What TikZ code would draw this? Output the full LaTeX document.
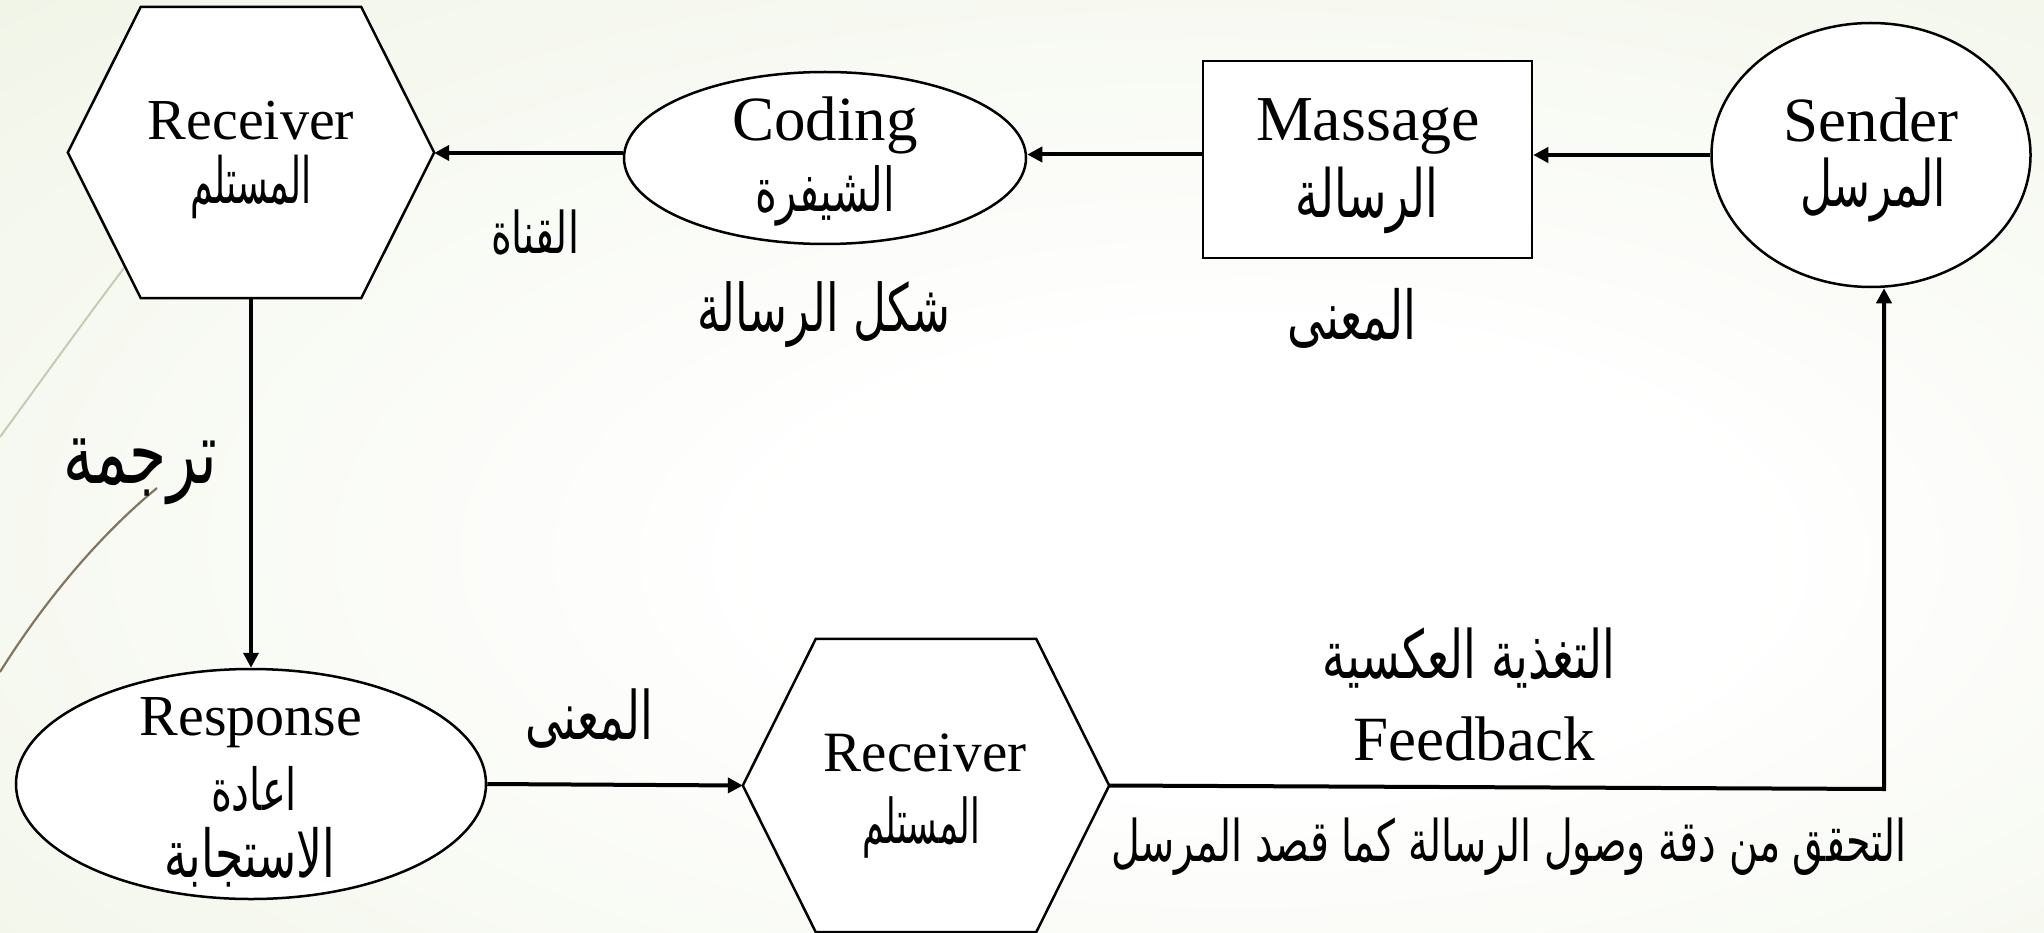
\documentclass[tikz,border=0pt]{standalone}
\usepackage{fontspec}
\setmainfont{Liberation Serif}
\newfontfamily\arabicfont[Script=Arabic]{DejaVu Sans}
\TeXXeTstate=1
\usetikzlibrary{shapes.geometric,arrows.meta,calc}
\definecolor{bgout}{RGB}{221,231,199}
\definecolor{lightarc}{RGB}{200,202,182}
\definecolor{darkarc}{RGB}{128,118,98}
\pgfdeclareradialshading{bgglow}{\pgfpoint{7bp}{-6bp}}{color(0bp)=(white); color(12bp)=(white); color(80bp)=(bgout)}
\newcommand\arw[3][1.45]{\scalebox{1}[#1]{\resizebox{#2pt}{!}{\arabicfont\fontsize{40}{48}\selectfont #3}}}
\begin{document}
\begin{tikzpicture}[x=1pt,y=-1pt,
  shapeline/.style={draw=black, line width=2.5pt, fill=white},
  hexarea/.style={rectangle, draw=none, inner sep=0pt, minimum width=366pt, minimum height=#1},
  hexarea/.default=291pt,
  ellbox/.style={ellipse, shapeline, inner sep=0pt},
  rectbox/.style={rectangle, shapeline, inner sep=0pt},
  lat/.style={font=\fontsize{#1}{#1}\selectfont, inner sep=0pt},
  arab/.style={inner sep=0pt},
  conn/.style={line width=4pt, -{Triangle[length=15pt,width=15pt]}},
]
\useasboundingbox (0,0) rectangle (2044,933);
\shade[shading=bgglow] (0,0) rectangle (2044,933);
% decorative theme lines
\draw[lightarc, line width=2pt] (0,437) .. controls (60,355) and (120,270) .. (200,170);
\draw[darkarc, line width=2.2pt] (0,672) .. controls (45,600) and (100,535) .. (157,488);

% shapes
\node[hexarea] (h1) at (251,152.5) {};
\draw[shapeline] (h1.west) -- ([xshift=73pt]h1.north west) -- ([xshift=-73pt]h1.north east) -- (h1.east) -- ([xshift=-73pt]h1.south east) -- ([xshift=73pt]h1.south west) -- cycle;
\node[hexarea=293pt] (h2) at (926,785.5) {};
\draw[shapeline] (h2.west) -- ([xshift=73pt]h2.north west) -- ([xshift=-73pt]h2.north east) -- (h2.east) -- ([xshift=-73pt]h2.south east) -- ([xshift=73pt]h2.south west) -- cycle;
\node[ellbox, minimum width=402pt, minimum height=172pt] (coding) at (825,158) {};
\node[rectbox, minimum width=329pt, minimum height=197pt] (massage) at (1367.5,159.5) {};
\node[ellbox, minimum width=319pt, minimum height=264pt] (sender) at (1871,155) {};
\node[ellbox, minimum width=470pt, minimum height=230pt] (response) at (251,784) {};

% texts in shapes
\node[lat=58] (h1en) at (251,121) {Receiver};
\node[arab] (h1ar) at (251,187) {\arw[1.75]{122}{\beginR المستلم\endR}};
\node[lat=63] (codingen) at (825,125) {Coding};
\node[arab] (codingar) at (825,196) {\arw{140}{\beginR الشيفرة\endR}};
\node[lat=64] (massageen) at (1368,126) {Massage};
\node[arab] (massagear) at (1367,200) {\arw{143}{\beginR الرسالة\endR}};
\node[lat=63] (senderen) at (1871,120) {Sender};
\node[arab] (senderar) at (1873,190) {\arw{146}{\beginR المرسل\endR}};
\node[lat=58] (responseen) at (251,723) {Response};
\node[arab] (responsear1) at (254,789) {\arw{86}{\beginR اعادة\endR}};
\node[arab] (responsear2) at (250,857) {\arw{171}{\beginR الاستجابة\endR}};
\node[lat=57] (h2en) at (925,753) {Receiver};
\node[arab] (h2ar) at (921,827) {\arw[1.75]{118}{\beginR المستلم\endR}};

% free labels
\node[arab] (channel) at (535,232) {\arw{88}{\beginR القناة\endR}};
\node[arab] (form) at (824,315) {\arw{253}{\beginR شكل الرسالة\endR}};
\node[arab] (meaning1) at (1352,318) {\arw{129}{\beginR المعنى\endR}};
\node[arab] (translate) at (140,472) {\arw{154}{\beginR ترجمة\endR}};
\node[arab] (meaning2) at (589,719) {\arw{128}{\beginR المعنى\endR}};
\node[arab] (feedbackar) at (1469,658) {\arw{293}{\beginR التغذية العكسية\endR}};
\node[lat=63] (feedbacken) at (1474,739) {Feedback};
\node[arab] (verify) at (1509,847) {\arw{795}{\beginR التحقق من دقة وصول الرسالة كما قصد المرسل\endR}};

% connectors
\draw[conn] (sender.west) -- (sender.west -| massage.east);
\draw[conn] ([yshift=5pt]massage.west) -- ([yshift=5pt]massage.west -| coding.east);
\draw[conn] ([yshift=5pt]coding.west) -- ([yshift=5pt]coding.west -| h1.east);
\draw[conn] (h1.south) -- (response.north);
\draw[conn] (response.east) -- (h2.west);
\coordinate (fbc) at (1884,789);
\draw[conn] (h2.east) -- (fbc) -- (fbc |- sender.south);
\end{tikzpicture}
\end{document}
